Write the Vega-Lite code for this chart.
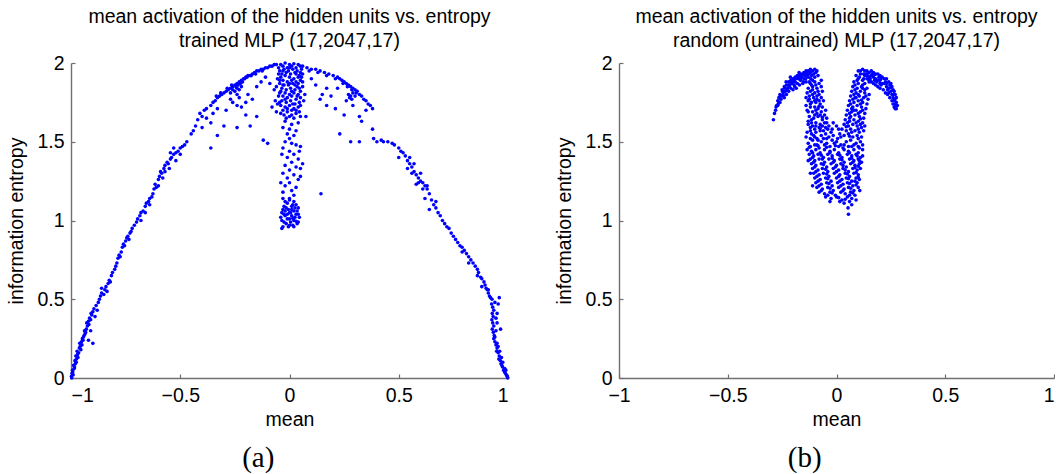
{
"$schema":"https://vega.github.io/schema/vega-lite/v6.json",
"padding":{"left":6,"top":6,"right":0,"bottom":0},
"config":{"font":"Liberation Sans","view":{"stroke":null},
"axis":{"domainColor":"#707070","domainWidth":1.4,"tickColor":"#707070","tickWidth":1.2,"tickSize":-4,"labelFontSize":19.5,"labelColor":"#000","labelFont":"Liberation Sans","titleFont":"Liberation Sans","titleFontSize":19.5,"titleFontWeight":"normal","titleColor":"#000","grid":false,"labelOverlap":false,"labelBound":false,"labelPadding":11},
"axisX":{"labelPadding":12},
"title":{"font":"Liberation Sans","fontSize":19.5,"fontWeight":"normal","color":"#000"}},
"spacing":44,
"datasets":{
"a":[
{"m":-0.998,"e":0.01},{"m":-0.995,"e":0.03},{"m":-0.99,"e":0.02},{"m":-0.993,"e":0.05},{"m":-0.985,"e":0.06},{"m":-0.988,"e":0.08},{"m":-0.98,"e":0.09},{"m":-0.982,"e":0.11},{"m":-0.975,"e":0.12},{"m":-0.978,"e":0.14},{"m":-0.97,"e":0.15},{"m":-0.972,"e":0.17},{"m":-0.965,"e":0.16},{"m":-0.962,"e":0.19},{"m":-0.958,"e":0.2},{"m":-0.96,"e":0.22},{"m":-0.952,"e":0.23},{"m":-0.948,"e":0.25},{"m":-0.945,"e":0.24},{"m":-0.94,"e":0.27},{"m":-0.936,"e":0.28},{"m":-0.938,"e":0.3},{"m":-0.93,"e":0.31},{"m":-0.925,"e":0.33},{"m":-0.928,"e":0.35},{"m":-0.92,"e":0.36},{"m":-0.915,"e":0.38},{"m":-0.91,"e":0.37},{"m":-0.905,"e":0.4},{"m":-0.9,"e":0.42},{"m":-0.895,"e":0.44},{"m":-0.9,"e":0.22},{"m":-0.92,"e":0.24},{"m":-0.91,"e":0.3},{"m":-0.89,"e":0.39},{"m":-0.885,"e":0.46},{"m":-0.875,"e":0.48},{"m":-0.87,"e":0.5},{"m":-0.865,"e":0.52},{"m":-0.86,"e":0.54},{"m":-0.85,"e":0.53},{"m":-0.845,"e":0.56},{"m":-0.84,"e":0.58},{"m":-0.83,"e":0.6},{"m":-0.825,"e":0.62},{"m":-0.82,"e":0.61},{"m":-0.815,"e":0.65},{"m":-0.81,"e":0.67},{"m":-0.8,"e":0.69},{"m":-0.795,"e":0.71},{"m":-0.79,"e":0.73},{"m":-0.785,"e":0.76},{"m":-0.78,"e":0.78},{"m":-0.775,"e":0.77},{"m":-0.77,"e":0.8},{"m":-0.765,"e":0.83},{"m":-0.76,"e":0.85},{"m":-0.755,"e":0.84},{"m":-0.75,"e":0.87},{"m":-0.745,"e":0.89},{"m":-0.74,"e":0.9},{"m":-0.735,"e":0.88},{"m":-0.73,"e":0.92},{"m":-0.725,"e":0.93},{"m":-0.72,"e":0.95},{"m":-0.71,"e":0.97},{"m":-0.997,"e":0.0},{"m":-0.992,"e":0.04},{"m":-0.984,"e":0.07},{"m":-0.976,"e":0.1},{"m":-0.968,"e":0.13},{"m":-0.955,"e":0.18},{"m":-0.95,"e":0.21},{"m":-0.943,"e":0.26},{"m":-0.933,"e":0.29},{"m":-0.918,"e":0.34},{"m":-0.908,"e":0.41},{"m":-0.88,"e":0.43},{"m":-0.86,"e":0.57},{"m":-0.835,"e":0.55},
{"m":-0.7,"e":0.99},{"m":-0.695,"e":1.01},{"m":-0.685,"e":1.03},{"m":-0.68,"e":1.05},{"m":-0.67,"e":1.06},{"m":-0.66,"e":1.09},{"m":-0.655,"e":1.11},{"m":-0.645,"e":1.12},{"m":-0.64,"e":1.14},{"m":-0.63,"e":1.15},{"m":-0.625,"e":1.17},{"m":-0.62,"e":1.2},{"m":-0.615,"e":1.23},{"m":-0.61,"e":1.21},{"m":-0.6,"e":1.26},{"m":-0.595,"e":1.28},{"m":-0.59,"e":1.31},{"m":-0.585,"e":1.3},{"m":-0.575,"e":1.33},{"m":-0.57,"e":1.35},{"m":-0.56,"e":1.37},{"m":-0.555,"e":1.36},{"m":-0.545,"e":1.39},{"m":-0.54,"e":1.4},{"m":-0.53,"e":1.42},{"m":-0.52,"e":1.43},{"m":-0.51,"e":1.44},{"m":-0.5,"e":1.46},{"m":-0.49,"e":1.47},{"m":-0.48,"e":1.48},{"m":-0.47,"e":1.5},{"m":-0.6,"e":1.22},{"m":-0.58,"e":1.27},{"m":-0.55,"e":1.33},{"m":-0.52,"e":1.38},{"m":-0.57,"e":1.31},{"m":-0.64,"e":1.1},{"m":-0.68,"e":1.0},{"m":-0.66,"e":1.05},{"m":-0.545,"e":1.43},{"m":-0.5,"e":1.42},{"m":-0.53,"e":1.46},
{"m":-0.45,"e":1.55},{"m":-0.44,"e":1.57},{"m":-0.43,"e":1.6},{"m":-0.42,"e":1.64},{"m":-0.41,"e":1.68},{"m":-0.4,"e":1.66},{"m":-0.39,"e":1.7},{"m":-0.38,"e":1.71},{"m":-0.36,"e":1.73},{"m":-0.35,"e":1.75},{"m":-0.34,"e":1.76},{"m":-0.33,"e":1.78},{"m":-0.32,"e":1.79},{"m":-0.31,"e":1.8},{"m":-0.3,"e":1.81},{"m":-0.29,"e":1.82},{"m":-0.28,"e":1.83},{"m":-0.27,"e":1.84},{"m":-0.26,"e":1.85},{"m":-0.25,"e":1.86},{"m":-0.24,"e":1.87},{"m":-0.23,"e":1.88},{"m":-0.22,"e":1.89},{"m":-0.21,"e":1.9},{"m":-0.2,"e":1.91},{"m":-0.19,"e":1.92},{"m":-0.18,"e":1.92},{"m":-0.17,"e":1.93},{"m":-0.16,"e":1.94},{"m":-0.15,"e":1.95},{"m":-0.14,"e":1.95},{"m":-0.13,"e":1.96},{"m":-0.12,"e":1.96},{"m":-0.11,"e":1.97},{"m":-0.1,"e":1.97},{"m":-0.09,"e":1.98},{"m":-0.08,"e":1.98},{"m":-0.07,"e":1.99},{"m":-0.06,"e":1.99},{"m":-0.335,"e":1.79},{"m":-0.315,"e":1.81},{"m":-0.285,"e":1.84},{"m":-0.265,"e":1.86},{"m":-0.245,"e":1.85},{"m":-0.235,"e":1.86},{"m":-0.225,"e":1.87},{"m":-0.215,"e":1.88},{"m":-0.205,"e":1.9},{"m":-0.195,"e":1.91},{"m":-0.175,"e":1.92},{"m":-0.155,"e":1.93},{"m":-0.125,"e":1.95},{"m":-0.26,"e":1.83},{"m":-0.25,"e":1.82},{"m":-0.24,"e":1.84},{"m":-0.23,"e":1.83},{"m":-0.22,"e":1.85},{"m":-0.24,"e":1.8},{"m":-0.27,"e":1.81},{"m":-0.23,"e":1.78},{"m":-0.36,"e":1.46},{"m":-0.33,"e":1.54},{"m":-0.3,"e":1.6},{"m":-0.24,"e":1.59},{"m":-0.2,"e":1.67},{"m":-0.15,"e":1.66},{"m":-0.12,"e":1.51},{"m":-0.1,"e":1.49},{"m":-0.24,"e":1.73},{"m":-0.17,"e":1.77},{"m":-0.27,"e":1.77},{"m":-0.33,"e":1.71},{"m":-0.2,"e":1.75},{"m":-0.38,"e":1.65},{"m":-0.36,"e":1.62},{"m":-0.29,"e":1.7},{"m":-0.26,"e":1.75},{"m":-0.22,"e":1.72},{"m":-0.19,"e":1.8},{"m":-0.15,"e":1.85},{"m":-0.13,"e":1.88},{"m":-0.11,"e":1.91},{"m":-0.09,"e":1.87},{"m":-0.18,"e":1.6},{"m":-0.4,"e":1.59},{"m":-0.35,"e":1.68},
{"m":-0.04,"e":1.99},{"m":-0.02,"e":2.0},{"m":0.0,"e":1.99},{"m":0.02,"e":1.995},{"m":0.04,"e":1.99},{"m":0.05,"e":1.98},{"m":-0.05,"e":1.97},{"m":-0.03,"e":1.98},{"m":-0.01,"e":1.97},{"m":0.01,"e":1.98},{"m":0.03,"e":1.97},{"m":0.055,"e":1.96},{"m":-0.045,"e":1.95},{"m":-0.025,"e":1.96},{"m":-0.005,"e":1.95},{"m":0.015,"e":1.96},{"m":0.035,"e":1.95},{"m":0.05,"e":1.94},{"m":-0.035,"e":1.93},{"m":-0.015,"e":1.94},{"m":0.005,"e":1.93},{"m":0.025,"e":1.94},{"m":0.045,"e":1.92},{"m":-0.04,"e":1.91},{"m":-0.02,"e":1.92},{"m":0.0,"e":1.91},{"m":0.02,"e":1.9},{"m":0.04,"e":1.91},{"m":-0.03,"e":1.89},{"m":-0.01,"e":1.88},{"m":0.01,"e":1.89},{"m":0.03,"e":1.88},{"m":0.05,"e":1.89},{"m":-0.045,"e":1.87},{"m":-0.025,"e":1.86},{"m":-0.005,"e":1.86},{"m":0.015,"e":1.87},{"m":0.035,"e":1.85},{"m":-0.035,"e":1.84},{"m":-0.015,"e":1.83},{"m":0.005,"e":1.84},{"m":0.025,"e":1.83},{"m":0.045,"e":1.84},{"m":-0.04,"e":1.82},{"m":-0.02,"e":1.81},{"m":0.0,"e":1.8},{"m":0.02,"e":1.81},{"m":0.04,"e":1.8},{"m":-0.03,"e":1.79},{"m":-0.01,"e":1.78},{"m":0.01,"e":1.79},{"m":0.03,"e":1.77},{"m":0.05,"e":1.78},{"m":-0.035,"e":1.76},{"m":-0.015,"e":1.75},{"m":0.005,"e":1.76},{"m":0.025,"e":1.74},{"m":0.045,"e":1.75},{"m":-0.04,"e":1.73},{"m":-0.02,"e":1.72},{"m":0.0,"e":1.73},{"m":0.02,"e":1.71},{"m":0.04,"e":1.72},{"m":-0.03,"e":1.7},{"m":-0.01,"e":1.69},{"m":0.01,"e":1.7},{"m":0.03,"e":1.68},{"m":-0.025,"e":1.67},{"m":0.0,"e":1.66},{"m":0.02,"e":1.65},{"m":0.045,"e":1.69},{"m":-0.05,"e":1.79},{"m":0.06,"e":1.85},{"m":-0.055,"e":1.9},{"m":0.06,"e":1.93},{"m":-0.07,"e":1.83},{"m":-0.065,"e":1.76},{"m":-0.08,"e":1.72},{"m":0.07,"e":1.8},{"m":0.075,"e":1.66},{"m":-0.06,"e":1.69},
{"m":-0.05,"e":1.93},{"m":-0.03,"e":1.95},{"m":0.0,"e":1.97},{"m":0.03,"e":1.93},{"m":0.055,"e":1.91},{"m":-0.045,"e":1.89},{"m":0.0,"e":1.87},{"m":0.04,"e":1.87},{"m":-0.03,"e":1.86},{"m":0.025,"e":1.86},{"m":-0.045,"e":1.81},{"m":0.01,"e":1.82},{"m":0.05,"e":1.82},{"m":-0.02,"e":1.77},{"m":0.035,"e":1.79},{"m":-0.045,"e":1.75},{"m":0.015,"e":1.74},{"m":0.05,"e":1.73},{"m":-0.01,"e":1.71},{"m":0.03,"e":1.7},{"m":-0.04,"e":1.68},{"m":0.01,"e":1.67},{"m":0.05,"e":1.66},{"m":-0.015,"e":1.65},{"m":0.065,"e":1.76},{"m":0.06,"e":1.88},{"m":-0.06,"e":1.85},{"m":-0.055,"e":1.74},
{"m":-0.02,"e":1.63},{"m":0.01,"e":1.61},{"m":0.04,"e":1.62},{"m":-0.03,"e":1.59},{"m":0.0,"e":1.58},{"m":0.03,"e":1.57},{"m":-0.01,"e":1.55},{"m":0.02,"e":1.54},{"m":0.0,"e":1.52},{"m":-0.02,"e":1.5},{"m":0.01,"e":1.49},{"m":0.05,"e":1.47},{"m":0.03,"e":1.48},{"m":-0.03,"e":1.46},{"m":0.0,"e":1.44},{"m":0.02,"e":1.42},{"m":-0.01,"e":1.4},{"m":0.04,"e":1.39},{"m":0.01,"e":1.37},{"m":-0.02,"e":1.35},{"m":0.03,"e":1.34},{"m":0.0,"e":1.32},{"m":0.05,"e":1.33},{"m":-0.03,"e":1.3},{"m":0.02,"e":1.29},{"m":-0.01,"e":1.27},{"m":0.04,"e":1.26},{"m":0.0,"e":1.24},{"m":-0.02,"e":1.22},{"m":0.03,"e":1.21},{"m":0.01,"e":1.19},{"m":-0.03,"e":1.18},{"m":0.02,"e":1.16},{"m":0.0,"e":1.14},{"m":-0.04,"e":1.24},{"m":0.06,"e":1.36},{"m":0.05,"e":1.28},{"m":0.045,"e":1.44},{"m":-0.035,"e":1.42},
{"m":-0.03,"e":1.14},{"m":0.0,"e":1.13},{"m":0.02,"e":1.12},{"m":-0.01,"e":1.11},{"m":0.03,"e":1.1},{"m":-0.025,"e":1.09},{"m":0.01,"e":1.09},{"m":0.04,"e":1.08},{"m":-0.03,"e":1.07},{"m":-0.005,"e":1.07},{"m":0.02,"e":1.06},{"m":-0.035,"e":1.05},{"m":0.0,"e":1.05},{"m":0.03,"e":1.04},{"m":-0.02,"e":1.03},{"m":0.01,"e":1.03},{"m":0.045,"e":1.02},{"m":-0.04,"e":1.02},{"m":-0.01,"e":1.01},{"m":0.02,"e":1.0},{"m":-0.025,"e":0.99},{"m":0.005,"e":0.99},{"m":0.035,"e":0.98},{"m":-0.015,"e":0.98},{"m":0.015,"e":0.97},{"m":-0.03,"e":0.96},{"m":0.04,"e":0.99},{"m":0.0,"e":0.97},{"m":0.025,"e":1.02},{"m":-0.02,"e":1.06},{"m":0.01,"e":1.07},{"m":0.035,"e":1.06},{"m":-0.01,"e":1.04},{"m":0.0,"e":1.01},{"m":-0.035,"e":0.95},{"m":-0.02,"e":1.12},{"m":0.015,"e":1.1},{"m":-0.015,"e":1.08},{"m":0.025,"e":1.08},{"m":0.005,"e":1.05},{"m":-0.025,"e":1.04},{"m":0.04,"e":1.04},{"m":0.015,"e":1.015},{"m":-0.035,"e":1.0},{"m":0.03,"e":0.995},{"m":-0.005,"e":0.96},{"m":0.02,"e":0.96},{"m":0.144,"e":1.17},
{"m":0.06,"e":1.98},{"m":0.08,"e":1.97},{"m":0.1,"e":1.96},{"m":0.12,"e":1.96},{"m":0.14,"e":1.95},{"m":0.16,"e":1.94},{"m":0.18,"e":1.93},{"m":0.2,"e":1.92},{"m":0.22,"e":1.91},{"m":0.23,"e":1.9},{"m":0.24,"e":1.89},{"m":0.25,"e":1.88},{"m":0.26,"e":1.87},{"m":0.27,"e":1.86},{"m":0.28,"e":1.85},{"m":0.29,"e":1.84},{"m":0.3,"e":1.83},{"m":0.31,"e":1.82},{"m":0.32,"e":1.8},{"m":0.33,"e":1.79},{"m":0.34,"e":1.77},{"m":0.35,"e":1.76},{"m":0.36,"e":1.74},{"m":0.37,"e":1.73},{"m":0.38,"e":1.71},{"m":0.09,"e":1.95},{"m":0.13,"e":1.94},{"m":0.17,"e":1.92},{"m":0.21,"e":1.9},{"m":0.245,"e":1.87},{"m":0.265,"e":1.85},{"m":0.285,"e":1.83},{"m":0.305,"e":1.81},{"m":0.27,"e":1.8},{"m":0.28,"e":1.79},{"m":0.29,"e":1.81},{"m":0.275,"e":1.78},{"m":0.3,"e":1.79},{"m":0.285,"e":1.77},{"m":0.12,"e":1.86},{"m":0.14,"e":1.77},{"m":0.17,"e":1.73},{"m":0.21,"e":1.71},{"m":0.23,"e":1.55},{"m":0.28,"e":1.5},{"m":0.32,"e":1.5},{"m":0.25,"e":1.67},{"m":0.32,"e":1.66},{"m":0.29,"e":1.73},{"m":0.17,"e":1.84},{"m":0.1,"e":1.9},{"m":0.19,"e":1.79},{"m":0.26,"e":1.76},{"m":0.22,"e":1.84},{"m":0.35,"e":1.7},{"m":0.38,"e":1.58},{"m":0.385,"e":1.52},{"m":0.33,"e":1.63},{"m":0.15,"e":1.8},
{"m":0.4,"e":1.5},{"m":0.42,"e":1.51},{"m":0.43,"e":1.5},{"m":0.45,"e":1.5},{"m":0.47,"e":1.49},{"m":0.48,"e":1.48},{"m":0.5,"e":1.46},{"m":0.51,"e":1.44},{"m":0.52,"e":1.43},{"m":0.53,"e":1.41},{"m":0.54,"e":1.38},{"m":0.55,"e":1.36},{"m":0.56,"e":1.34},{"m":0.57,"e":1.31},{"m":0.58,"e":1.29},{"m":0.59,"e":1.27},{"m":0.6,"e":1.25},{"m":0.61,"e":1.24},{"m":0.62,"e":1.22},{"m":0.63,"e":1.2},{"m":0.64,"e":1.17},{"m":0.65,"e":1.13},{"m":0.66,"e":1.1},{"m":0.67,"e":1.08},{"m":0.68,"e":1.05},{"m":0.69,"e":1.03},{"m":0.7,"e":1.0},{"m":0.71,"e":0.98},{"m":0.72,"e":0.96},{"m":0.73,"e":0.95},{"m":0.54,"e":1.33},{"m":0.56,"e":1.3},{"m":0.59,"e":1.24},{"m":0.61,"e":1.2},{"m":0.63,"e":1.22},{"m":0.55,"e":1.4},{"m":0.5,"e":1.4},{"m":0.62,"e":1.14},{"m":0.64,"e":1.07},{"m":0.67,"e":1.12},{"m":0.57,"e":1.36},{"m":0.6,"e":1.3},{"m":0.58,"e":1.23},
{"m":0.74,"e":0.92},{"m":0.75,"e":0.9},{"m":0.76,"e":0.88},{"m":0.77,"e":0.86},{"m":0.78,"e":0.84},{"m":0.79,"e":0.83},{"m":0.8,"e":0.81},{"m":0.81,"e":0.79},{"m":0.82,"e":0.77},{"m":0.83,"e":0.75},{"m":0.84,"e":0.73},{"m":0.85,"e":0.71},{"m":0.86,"e":0.69},{"m":0.865,"e":0.67},{"m":0.875,"e":0.64},{"m":0.88,"e":0.63},{"m":0.89,"e":0.61},{"m":0.895,"e":0.59},{"m":0.9,"e":0.57},{"m":0.905,"e":0.56},{"m":0.91,"e":0.54},{"m":0.915,"e":0.52},{"m":0.92,"e":0.51},{"m":0.927,"e":0.5},{"m":0.925,"e":0.47},{"m":0.93,"e":0.45},{"m":0.935,"e":0.43},{"m":0.928,"e":0.41},{"m":0.932,"e":0.39},{"m":0.926,"e":0.37},{"m":0.93,"e":0.35},{"m":0.935,"e":0.33},{"m":0.928,"e":0.31},{"m":0.933,"e":0.29},{"m":0.937,"e":0.27},{"m":0.935,"e":0.25},{"m":0.94,"e":0.23},{"m":0.945,"e":0.21},{"m":0.95,"e":0.19},{"m":0.948,"e":0.17},{"m":0.955,"e":0.16},{"m":0.96,"e":0.14},{"m":0.958,"e":0.12},{"m":0.965,"e":0.11},{"m":0.968,"e":0.09},{"m":0.972,"e":0.08},{"m":0.975,"e":0.07},{"m":0.98,"e":0.05},{"m":0.984,"e":0.04},{"m":0.988,"e":0.03},{"m":0.992,"e":0.02},{"m":0.996,"e":0.01},{"m":0.999,"e":0.0},{"m":0.94,"e":0.26},{"m":0.945,"e":0.3},{"m":0.95,"e":0.22},{"m":0.955,"e":0.2},{"m":0.962,"e":0.17},{"m":0.97,"e":0.13},{"m":0.976,"e":0.1},{"m":0.985,"e":0.06},{"m":0.99,"e":0.05},{"m":0.96,"e":0.51},{"m":0.966,"e":0.31},{"m":0.95,"e":0.41},{"m":0.91,"e":0.56},{"m":0.955,"e":0.47},{"m":0.945,"e":0.38},{"m":0.94,"e":0.48},{"m":0.82,"e":0.73},{"m":0.86,"e":0.65},{"m":0.79,"e":0.8},{"m":0.88,"e":0.58},{"m":0.95,"e":0.35}
],
"b":[
{"m":-0.29,"e":1.64},{"m":-0.28,"e":1.7},{"m":-0.275,"e":1.73},{"m":-0.27,"e":1.76},{"m":-0.27,"e":1.73},{"m":-0.265,"e":1.78},{"m":-0.26,"e":1.75},{"m":-0.26,"e":1.8},{"m":-0.255,"e":1.77},{"m":-0.25,"e":1.83},{"m":-0.25,"e":1.79},{"m":-0.245,"e":1.81},{"m":-0.24,"e":1.85},{"m":-0.24,"e":1.78},{"m":-0.235,"e":1.82},{"m":-0.23,"e":1.86},{"m":-0.23,"e":1.8},{"m":-0.225,"e":1.84},{"m":-0.22,"e":1.88},{"m":-0.22,"e":1.82},{"m":-0.215,"e":1.86},{"m":-0.21,"e":1.89},{"m":-0.21,"e":1.84},{"m":-0.205,"e":1.87},{"m":-0.2,"e":1.9},{"m":-0.2,"e":1.83},{"m":-0.195,"e":1.86},{"m":-0.19,"e":1.91},{"m":-0.19,"e":1.88},{"m":-0.185,"e":1.84},{"m":-0.18,"e":1.92},{"m":-0.18,"e":1.87},{"m":-0.175,"e":1.9},{"m":-0.17,"e":1.93},{"m":-0.17,"e":1.86},{"m":-0.165,"e":1.89},{"m":-0.16,"e":1.93},{"m":-0.16,"e":1.91},{"m":-0.155,"e":1.87},{"m":-0.15,"e":1.94},{"m":-0.15,"e":1.9},{"m":-0.145,"e":1.92},{"m":-0.14,"e":1.95},{"m":-0.14,"e":1.88},{"m":-0.135,"e":1.93},{"m":-0.13,"e":1.95},{"m":-0.13,"e":1.91},{"m":-0.125,"e":1.88},{"m":-0.12,"e":1.94},{"m":-0.12,"e":1.96},{"m":-0.115,"e":1.92},{"m":-0.11,"e":1.95},{"m":-0.11,"e":1.89},{"m":-0.105,"e":1.93},{"m":-0.1,"e":1.96},{"m":-0.1,"e":1.91},{"m":-0.095,"e":1.94},{"m":-0.09,"e":1.95},{"m":-0.085,"e":1.92},{"m":-0.285,"e":1.68},{"m":-0.278,"e":1.72},{"m":-0.268,"e":1.74},{"m":-0.258,"e":1.79},{"m":-0.248,"e":1.82},{"m":-0.238,"e":1.84},{"m":-0.228,"e":1.83},{"m":-0.218,"e":1.85},{"m":-0.208,"e":1.88},{"m":-0.198,"e":1.88},{"m":-0.188,"e":1.9},{"m":-0.178,"e":1.91},{"m":-0.168,"e":1.92},{"m":-0.158,"e":1.92},{"m":-0.148,"e":1.93},{"m":-0.138,"e":1.94},{"m":-0.128,"e":1.93},{"m":-0.118,"e":1.9},{"m":-0.212,"e":1.91},{"m":-0.172,"e":1.94},{"m":-0.142,"e":1.9},{"m":-0.152,"e":1.88},{"m":-0.192,"e":1.85},{"m":-0.232,"e":1.88},{"m":-0.265,"e":1.75},{"m":-0.245,"e":1.795},{"m":-0.22,"e":1.86},{"m":-0.195,"e":1.895},{"m":-0.165,"e":1.91},{"m":-0.135,"e":1.92},
{"m":-0.12,"e":1.87},{"m":-0.1,"e":1.88},{"m":-0.08,"e":1.87},{"m":-0.07,"e":1.89},{"m":-0.13,"e":1.84},{"m":-0.11,"e":1.85},{"m":-0.09,"e":1.84},{"m":-0.07,"e":1.85},{"m":-0.135,"e":1.81},{"m":-0.12,"e":1.82},{"m":-0.1,"e":1.81},{"m":-0.08,"e":1.8},{"m":-0.065,"e":1.82},{"m":-0.14,"e":1.78},{"m":-0.125,"e":1.79},{"m":-0.105,"e":1.78},{"m":-0.09,"e":1.77},{"m":-0.07,"e":1.78},{"m":-0.13,"e":1.76},{"m":-0.115,"e":1.75},{"m":-0.095,"e":1.75},{"m":-0.075,"e":1.74},{"m":-0.06,"e":1.76},{"m":-0.14,"e":1.73},{"m":-0.12,"e":1.72},{"m":-0.1,"e":1.72},{"m":-0.085,"e":1.71},{"m":-0.065,"e":1.72},{"m":-0.05,"e":1.7},{"m":-0.13,"e":1.69},{"m":-0.11,"e":1.69},{"m":-0.09,"e":1.68},{"m":-0.07,"e":1.69},{"m":-0.055,"e":1.67},{"m":-0.125,"e":1.66},{"m":-0.105,"e":1.65},{"m":-0.085,"e":1.66},{"m":-0.065,"e":1.64},{"m":-0.045,"e":1.65},{"m":-0.13,"e":1.63},{"m":-0.115,"e":1.62},{"m":-0.095,"e":1.62},{"m":-0.075,"e":1.61},{"m":-0.055,"e":1.62},{"m":-0.035,"e":1.6},{"m":-0.12,"e":1.59},{"m":-0.1,"e":1.58},{"m":-0.08,"e":1.59},{"m":-0.06,"e":1.57},{"m":-0.04,"e":1.58},{"m":-0.135,"e":1.56},{"m":-0.115,"e":1.55},{"m":-0.095,"e":1.56},{"m":-0.07,"e":1.54},{"m":-0.05,"e":1.55},{"m":-0.025,"e":1.56},{"m":-0.14,"e":1.53},{"m":-0.12,"e":1.52},{"m":-0.1,"e":1.53},{"m":-0.085,"e":1.51},{"m":-0.06,"e":1.52},{"m":-0.035,"e":1.53},{"m":-0.015,"e":1.54},{"m":-0.115,"e":1.86},{"m":-0.095,"e":1.86},{"m":-0.085,"e":1.82},{"m":-0.11,"e":1.8},{"m":-0.125,"e":1.77},{"m":-0.1,"e":1.76},{"m":-0.08,"e":1.76},{"m":-0.135,"e":1.7},{"m":-0.095,"e":1.7},{"m":-0.075,"e":1.67},{"m":-0.115,"e":1.64},{"m":-0.095,"e":1.6},{"m":-0.065,"e":1.6},{"m":-0.045,"e":1.62},{"m":-0.105,"e":1.54},{"m":-0.075,"e":1.57},{"m":-0.13,"e":1.61},{"m":-0.015,"e":1.62},{"m":0.0,"e":1.6},{"m":0.01,"e":1.58},{"m":-0.02,"e":1.58},{"m":-0.11,"e":1.83},{"m":-0.09,"e":1.79},{"m":-0.12,"e":1.74},{"m":-0.08,"e":1.725},{"m":-0.1,"e":1.67},{"m":-0.065,"e":1.655},{"m":-0.11,"e":1.6},{"m":-0.075,"e":1.585},{"m":-0.12,"e":1.57},{"m":-0.05,"e":1.59},{"m":-0.09,"e":1.52},{"m":-0.045,"e":1.52},
{"m":0.09,"e":1.92},{"m":0.11,"e":1.93},{"m":0.13,"e":1.92},{"m":0.15,"e":1.91},{"m":0.1,"e":1.9},{"m":0.12,"e":1.89},{"m":0.14,"e":1.9},{"m":0.08,"e":1.88},{"m":0.1,"e":1.87},{"m":0.13,"e":1.87},{"m":0.15,"e":1.88},{"m":0.075,"e":1.85},{"m":0.095,"e":1.84},{"m":0.115,"e":1.85},{"m":0.14,"e":1.84},{"m":0.07,"e":1.82},{"m":0.09,"e":1.81},{"m":0.11,"e":1.82},{"m":0.13,"e":1.81},{"m":0.15,"e":1.8},{"m":0.065,"e":1.79},{"m":0.085,"e":1.78},{"m":0.105,"e":1.79},{"m":0.125,"e":1.78},{"m":0.145,"e":1.77},{"m":0.06,"e":1.76},{"m":0.08,"e":1.75},{"m":0.1,"e":1.76},{"m":0.12,"e":1.75},{"m":0.14,"e":1.74},{"m":0.055,"e":1.73},{"m":0.075,"e":1.72},{"m":0.095,"e":1.73},{"m":0.115,"e":1.72},{"m":0.135,"e":1.71},{"m":0.05,"e":1.7},{"m":0.07,"e":1.69},{"m":0.09,"e":1.7},{"m":0.11,"e":1.69},{"m":0.13,"e":1.68},{"m":0.045,"e":1.67},{"m":0.065,"e":1.66},{"m":0.085,"e":1.67},{"m":0.105,"e":1.66},{"m":0.125,"e":1.65},{"m":0.04,"e":1.64},{"m":0.06,"e":1.63},{"m":0.08,"e":1.64},{"m":0.1,"e":1.63},{"m":0.12,"e":1.62},{"m":0.035,"e":1.61},{"m":0.055,"e":1.6},{"m":0.075,"e":1.61},{"m":0.095,"e":1.6},{"m":0.115,"e":1.59},{"m":0.13,"e":1.6},{"m":0.025,"e":1.58},{"m":0.045,"e":1.57},{"m":0.065,"e":1.58},{"m":0.085,"e":1.57},{"m":0.105,"e":1.56},{"m":0.125,"e":1.57},{"m":0.015,"e":1.55},{"m":0.035,"e":1.54},{"m":0.055,"e":1.55},{"m":0.075,"e":1.53},{"m":0.095,"e":1.54},{"m":0.115,"e":1.53},{"m":0.005,"e":1.52},{"m":0.105,"e":1.91},{"m":0.125,"e":1.9},{"m":0.085,"e":1.86},{"m":0.12,"e":1.84},{"m":0.1,"e":1.8},{"m":0.08,"e":1.8},{"m":0.135,"e":1.79},{"m":0.09,"e":1.78},{"m":0.11,"e":1.74},{"m":0.065,"e":1.74},{"m":0.1,"e":1.68},{"m":0.08,"e":1.7},{"m":0.06,"e":1.68},{"m":0.09,"e":1.62},{"m":0.07,"e":1.56},{"m":0.11,"e":1.61},{"m":0.05,"e":1.62},{"m":0.095,"e":1.89},{"m":0.12,"e":1.86},{"m":0.085,"e":1.83},{"m":0.13,"e":1.83},{"m":0.075,"e":1.77},{"m":0.115,"e":1.765},{"m":0.07,"e":1.71},{"m":0.12,"e":1.7},{"m":0.06,"e":1.65},{"m":0.11,"e":1.645},{"m":0.045,"e":1.595},{"m":0.1,"e":1.58},{"m":0.02,"e":1.53},{"m":0.06,"e":1.535},{"m":0.1,"e":1.52},
{"m":0.1,"e":1.95},{"m":0.11,"e":1.95},{"m":0.12,"e":1.96},{"m":0.13,"e":1.95},{"m":0.14,"e":1.95},{"m":0.15,"e":1.94},{"m":0.16,"e":1.95},{"m":0.17,"e":1.94},{"m":0.18,"e":1.93},{"m":0.19,"e":1.93},{"m":0.2,"e":1.92},{"m":0.21,"e":1.91},{"m":0.22,"e":1.9},{"m":0.23,"e":1.9},{"m":0.24,"e":1.88},{"m":0.25,"e":1.87},{"m":0.255,"e":1.85},{"m":0.26,"e":1.83},{"m":0.265,"e":1.82},{"m":0.27,"e":1.8},{"m":0.275,"e":1.78},{"m":0.275,"e":1.75},{"m":0.28,"e":1.73},{"m":0.275,"e":1.71},{"m":0.14,"e":1.92},{"m":0.15,"e":1.91},{"m":0.16,"e":1.92},{"m":0.17,"e":1.91},{"m":0.18,"e":1.9},{"m":0.19,"e":1.89},{"m":0.2,"e":1.89},{"m":0.21,"e":1.87},{"m":0.22,"e":1.87},{"m":0.23,"e":1.85},{"m":0.24,"e":1.84},{"m":0.25,"e":1.82},{"m":0.255,"e":1.8},{"m":0.26,"e":1.78},{"m":0.265,"e":1.76},{"m":0.27,"e":1.74},{"m":0.15,"e":1.89},{"m":0.16,"e":1.88},{"m":0.17,"e":1.87},{"m":0.18,"e":1.86},{"m":0.19,"e":1.85},{"m":0.2,"e":1.84},{"m":0.215,"e":1.83},{"m":0.225,"e":1.81},{"m":0.235,"e":1.8},{"m":0.245,"e":1.78},{"m":0.255,"e":1.76},{"m":0.26,"e":1.74},{"m":0.265,"e":1.72},{"m":0.27,"e":1.71},{"m":0.135,"e":1.93},{"m":0.165,"e":1.93},{"m":0.195,"e":1.91},{"m":0.225,"e":1.88},{"m":0.245,"e":1.86},{"m":0.175,"e":1.89},{"m":0.205,"e":1.86},{"m":0.235,"e":1.83},{"m":0.185,"e":1.88},{"m":0.155,"e":1.9},{"m":0.125,"e":1.93},{"m":0.24,"e":1.81},{"m":0.2,"e":1.87},{"m":0.145,"e":1.935},{"m":0.175,"e":1.925},{"m":0.205,"e":1.9},{"m":0.23,"e":1.87},{"m":0.25,"e":1.845},{"m":0.262,"e":1.8},{"m":0.268,"e":1.77},{"m":0.272,"e":1.73},
{"m":-0.13,"e":1.49},{"m":-0.11,"e":1.51},{"m":-0.09,"e":1.48},{"m":-0.07,"e":1.5},{"m":-0.045,"e":1.49},{"m":-0.02,"e":1.51},{"m":0.0,"e":1.5},{"m":0.02,"e":1.48},{"m":0.045,"e":1.5},{"m":0.065,"e":1.51},{"m":0.09,"e":1.49},{"m":0.11,"e":1.5},{"m":-0.12,"e":1.47},{"m":-0.1,"e":1.48},{"m":-0.08,"e":1.46},{"m":-0.055,"e":1.48},{"m":-0.03,"e":1.47},{"m":-0.01,"e":1.49},{"m":0.01,"e":1.47},{"m":0.035,"e":1.48},{"m":0.055,"e":1.47},{"m":0.08,"e":1.48},{"m":0.1,"e":1.47},{"m":0.12,"e":1.48},{"m":-0.135,"e":1.45},{"m":-0.115,"e":1.44},{"m":-0.095,"e":1.45},{"m":-0.075,"e":1.43},{"m":-0.055,"e":1.45},{"m":-0.03,"e":1.44},{"m":-0.01,"e":1.45},{"m":0.01,"e":1.43},{"m":0.035,"e":1.45},{"m":0.055,"e":1.44},{"m":0.08,"e":1.45},{"m":0.1,"e":1.43},{"m":0.12,"e":1.45},{"m":-0.125,"e":1.42},{"m":-0.105,"e":1.41},{"m":-0.085,"e":1.42},{"m":-0.06,"e":1.4},{"m":-0.04,"e":1.42},{"m":-0.02,"e":1.41},{"m":0.005,"e":1.42},{"m":0.025,"e":1.4},{"m":0.05,"e":1.42},{"m":0.07,"e":1.41},{"m":0.09,"e":1.42},{"m":0.11,"e":1.4},{"m":-0.12,"e":1.39},{"m":-0.1,"e":1.38},{"m":-0.08,"e":1.39},{"m":-0.055,"e":1.37},{"m":-0.035,"e":1.39},{"m":-0.01,"e":1.38},{"m":0.015,"e":1.39},{"m":0.035,"e":1.37},{"m":0.06,"e":1.39},{"m":0.08,"e":1.38},{"m":0.1,"e":1.39},{"m":0.115,"e":1.37},{"m":-0.115,"e":1.36},{"m":-0.095,"e":1.35},{"m":-0.07,"e":1.36},{"m":-0.045,"e":1.34},{"m":-0.025,"e":1.36},{"m":0.0,"e":1.35},{"m":0.02,"e":1.36},{"m":0.045,"e":1.34},{"m":0.065,"e":1.36},{"m":0.085,"e":1.35},{"m":0.105,"e":1.36},{"m":-0.11,"e":1.33},{"m":-0.085,"e":1.32},{"m":-0.065,"e":1.33},{"m":-0.04,"e":1.31},{"m":-0.015,"e":1.33},{"m":0.01,"e":1.32},{"m":0.03,"e":1.33},{"m":0.055,"e":1.31},{"m":0.075,"e":1.33},{"m":0.095,"e":1.32},{"m":0.11,"e":1.33},{"m":-0.105,"e":1.3},{"m":-0.08,"e":1.29},{"m":-0.06,"e":1.3},{"m":-0.035,"e":1.28},{"m":-0.01,"e":1.3},{"m":0.015,"e":1.29},{"m":0.04,"e":1.3},{"m":0.06,"e":1.28},{"m":0.08,"e":1.3},{"m":0.1,"e":1.29},{"m":-0.1,"e":1.27},{"m":-0.075,"e":1.26},{"m":-0.05,"e":1.27},{"m":-0.025,"e":1.25},{"m":0.0,"e":1.27},{"m":0.025,"e":1.26},{"m":0.045,"e":1.27},{"m":0.07,"e":1.25},{"m":0.09,"e":1.27},{"m":0.105,"e":1.26},{"m":-0.095,"e":1.24},{"m":-0.07,"e":1.23},{"m":-0.045,"e":1.24},{"m":-0.02,"e":1.22},{"m":0.005,"e":1.24},{"m":0.03,"e":1.23},{"m":0.05,"e":1.24},{"m":0.075,"e":1.22},{"m":0.095,"e":1.24},{"m":-0.09,"e":1.21},{"m":-0.065,"e":1.2},{"m":-0.04,"e":1.21},{"m":-0.015,"e":1.19},{"m":0.01,"e":1.21},{"m":0.035,"e":1.2},{"m":0.055,"e":1.21},{"m":0.08,"e":1.19},{"m":0.1,"e":1.21},{"m":-0.08,"e":1.18},{"m":-0.055,"e":1.17},{"m":-0.03,"e":1.18},{"m":-0.005,"e":1.16},{"m":0.02,"e":1.18},{"m":0.04,"e":1.17},{"m":0.065,"e":1.18},{"m":0.085,"e":1.16},{"m":-0.05,"e":1.15},{"m":-0.025,"e":1.14},{"m":0.0,"e":1.15},{"m":0.025,"e":1.13},{"m":0.05,"e":1.15},{"m":0.07,"e":1.14},{"m":0.09,"e":1.13},{"m":0.053,"e":1.08},{"m":0.055,"e":1.04},{"m":0.07,"e":1.1},{"m":0.06,"e":1.12},{"m":-0.03,"e":1.12},{"m":0.035,"e":1.11},{"m":0.015,"e":1.12},{"m":-0.11,"e":1.22},{"m":-0.12,"e":1.3},{"m":-0.13,"e":1.38},{"m":0.12,"e":1.41},{"m":0.107,"e":1.19},
{"m":-0.125,"e":1.465},{"m":-0.085,"e":1.475},{"m":-0.045,"e":1.465},{"m":-0.005,"e":1.475},{"m":0.03,"e":1.46},{"m":0.07,"e":1.47},{"m":0.105,"e":1.46},{"m":-0.11,"e":1.43},{"m":-0.07,"e":1.415},{"m":-0.03,"e":1.43},{"m":0.015,"e":1.415},{"m":0.06,"e":1.43},{"m":0.095,"e":1.41},{"m":-0.11,"e":1.4},{"m":-0.065,"e":1.39},{"m":-0.02,"e":1.395},{"m":0.025,"e":1.385},{"m":0.07,"e":1.395},{"m":0.105,"e":1.38},{"m":-0.105,"e":1.37},{"m":-0.06,"e":1.355},{"m":-0.015,"e":1.37},{"m":0.03,"e":1.35},{"m":0.075,"e":1.37},{"m":0.1,"e":1.345},{"m":-0.1,"e":1.34},{"m":-0.05,"e":1.325},{"m":-0.005,"e":1.34},{"m":0.04,"e":1.32},{"m":0.085,"e":1.335},{"m":-0.095,"e":1.31},{"m":-0.045,"e":1.295},{"m":0.0,"e":1.31},{"m":0.05,"e":1.295},{"m":0.09,"e":1.305},{"m":-0.09,"e":1.28},{"m":-0.04,"e":1.265},{"m":0.01,"e":1.28},{"m":0.055,"e":1.265},{"m":0.1,"e":1.275},{"m":-0.085,"e":1.25},{"m":-0.035,"e":1.235},{"m":0.015,"e":1.25},{"m":0.06,"e":1.235},{"m":0.085,"e":1.25},{"m":-0.08,"e":1.22},{"m":-0.03,"e":1.205},{"m":0.02,"e":1.22},{"m":0.065,"e":1.205},{"m":0.09,"e":1.225},{"m":-0.07,"e":1.19},{"m":-0.02,"e":1.175},{"m":0.03,"e":1.19},{"m":0.075,"e":1.175},{"m":-0.04,"e":1.16},{"m":0.01,"e":1.145},{"m":0.06,"e":1.16},{"m":0.04,"e":1.135}
]},
"hconcat":[
{"vconcat":[{"width":437,"height":315,"data":{"name":"a"},
"title":{"text":["mean activation of the hidden units vs. entropy","trained MLP (17,2047,17)"],"anchor":"middle","frame":"group","lineHeight":24,"offset":2},
"mark":{"type":"point","filled":true,"size":13,"color":"#0000ff","opacity":1},
"encoding":{"x":{"field":"m","type":"quantitative","scale":{"domain":[-1,1],"nice":false,"zero":false},"axis":{"values":[-1,-0.5,0,0.5,1],"format":"~g","title":"mean","titlePadding":6}},
"y":{"field":"e","type":"quantitative","scale":{"domain":[0,2],"nice":false,"zero":false},"axis":{"values":[0,0.5,1,1.5,2],"format":"~g","title":"information entropy","titlePadding":10}}}}],
"title":{"text":"(a)","orient":"bottom","font":"Liberation Serif","fontSize":29,"anchor":"middle","offset":15}},
{"vconcat":[{"width":435,"height":315,"data":{"name":"b"},
"title":{"text":["mean activation of the hidden units vs. entropy","random (untrained) MLP (17,2047,17)"],"anchor":"middle","frame":"group","lineHeight":24,"offset":2},
"mark":{"type":"point","filled":true,"size":13,"color":"#0000ff","opacity":1},
"encoding":{"x":{"field":"m","type":"quantitative","scale":{"domain":[-1,1],"nice":false,"zero":false},"axis":{"values":[-1,-0.5,0,0.5,1],"format":"~g","title":"mean","titlePadding":6,"labelAlign":{"condition":{"test":"datum.value === 1","value":"right"},"value":"center"}}},
"y":{"field":"e","type":"quantitative","scale":{"domain":[0,2],"nice":false,"zero":false},"axis":{"values":[0,0.5,1,1.5,2],"format":"~g","title":"information entropy","titlePadding":10}}}}],
"title":{"text":"(b)","orient":"bottom","font":"Liberation Serif","fontSize":29,"anchor":"middle","offset":15}}
]}
